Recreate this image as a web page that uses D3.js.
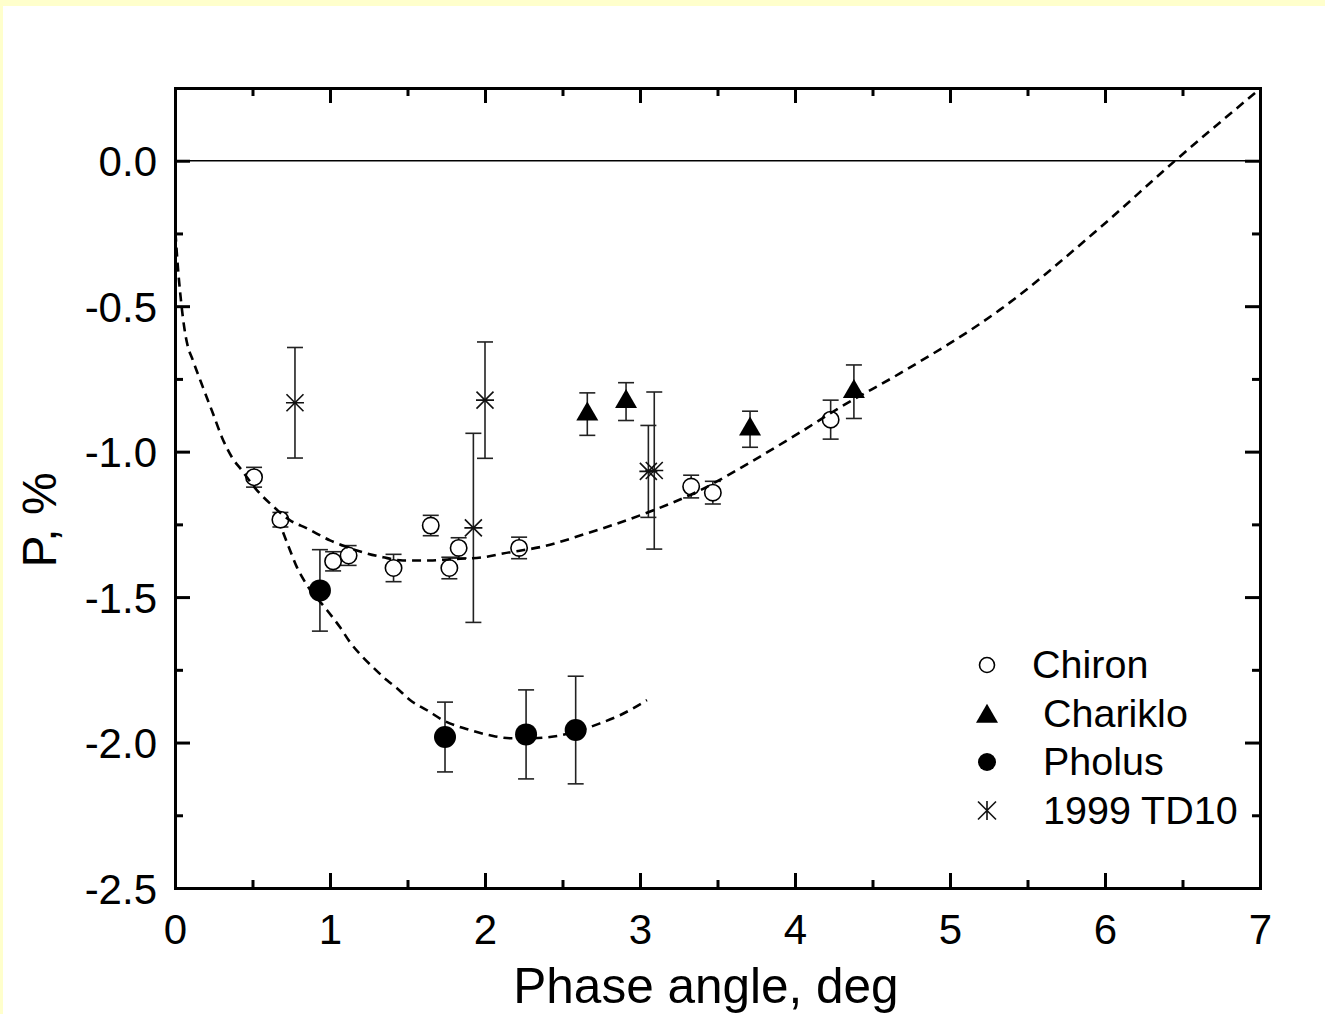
<!DOCTYPE html>
<html>
<head>
<meta charset="utf-8">
<script src="https://cdn.jsdelivr.net/npm/d3@7"></script>
<style>
  body { margin: 0; background: #FFFFCC; }
  svg { display: block; font-family: "Liberation Sans", Arial, sans-serif; }
</style>
</head>
<body>
<svg id="chart"></svg>
<script>
const width = 1325;
const height = 1014;
const plotLeft = 175, plotRight = 1260, plotTop = 88, plotBottom = 888;

// Chiron (open circles)
const chironPhase = [0.51, 0.68, 1.02, 1.12, 1.41, 1.65, 1.77, 1.83, 2.22, 3.33, 3.47, 4.23];
const chironP     = [-1.088, -1.234, -1.377, -1.357, -1.400, -1.254, -1.400, -1.331, -1.331, -1.120, -1.141, -0.890];
const chironErr   = [0.034, 0.025, 0.033, 0.034, 0.047, 0.035, 0.037, 0.035, 0.037, 0.039, 0.039, 0.067];

// Chariklo (filled triangles)
const charikloPhase = [2.66, 2.91, 3.71, 4.38];
const charikloP     = [-0.871, -0.828, -0.923, -0.794];
const charikloErr   = [0.073, 0.065, 0.062, 0.092];

// Pholus (filled circles)
const pholusPhase = [0.935, 1.742, 2.265, 2.585];
const pholusP     = [-1.477, -1.981, -1.972, -1.957];
const pholusErr   = [0.14, 0.12, 0.153, 0.185];

// 1999 TD10 (asterisks)
const td10Phase = [0.774, 1.925, 2.0, 3.054, 3.092];
const td10P     = [-0.832, -1.262, -0.823, -1.068, -1.065];
const td10Err   = [0.19, 0.325, 0.2, 0.158, 0.27];

// fitted curves
const fit1Phase = [0.003, 0.013, 0.026, 0.042, 0.058, 0.077, 0.116, 0.181, 0.245, 0.303, 0.368, 0.432, 0.529, 0.613,
                   0.742, 0.852, 1.000, 1.129, 1.342, 1.471, 1.645, 1.774, 1.987, 2.116, 2.374, 2.658, 3.000, 3.387,
                   3.710, 4.032, 4.290, 4.677, 5.323, 5.968, 6.452, 7.000];
const fit1P     = [-0.247, -0.326, -0.412, -0.498, -0.567, -0.625, -0.687, -0.780, -0.869, -0.951, -1.020, -1.065, -1.133, -1.178,
                   -1.236, -1.264, -1.305, -1.332, -1.363, -1.374, -1.374, -1.370, -1.363, -1.350, -1.326, -1.281, -1.219, -1.133,
                   -1.037, -0.934, -0.848, -0.731, -0.512, -0.230, 0.000, 0.247];

const fit2Phase = [0.697, 0.742, 0.787, 0.852, 0.981, 1.065, 1.129, 1.213, 1.277, 1.368, 1.432, 1.516, 1.626, 1.729,
                   1.903, 2.032, 2.161, 2.310, 2.419, 2.548, 2.742, 2.871, 3.045];
const fit2P     = [-1.277, -1.339, -1.398, -1.459, -1.545, -1.604, -1.655, -1.707, -1.741, -1.786, -1.813, -1.854, -1.889, -1.923,
                   -1.957, -1.975, -1.985, -1.985, -1.981, -1.968, -1.934, -1.906, -1.854];

const xTicks = [0, 1, 2, 3, 4, 5, 6, 7];
const xTickLabels = ['0', '1', '2', '3', '4', '5', '6', '7'];
const xMinor = [0.5, 1.5, 2.5, 3.5, 4.5, 5.5, 6.5];
const yTicks = [0, -0.5, -1, -1.5, -2, -2.5];
const yTickLabels = ['0.0', '-0.5', '-1.0', '-1.5', '-2.0', '-2.5'];
const yMinor = [-0.25, -0.75, -1.25, -1.75, -2.25];

const legendLabels = ['Chiron', ' Chariklo', ' Pholus', ' 1999 TD10'];

const svg = d3.select('#chart')
    .attr('width', width)
    .attr('height', height);

svg.append('rect')
    .attr('x', 3).attr('y', 6)
    .attr('width', width - 3).attr('height', height - 6)
    .attr('fill', '#ffffff');

const x = d3.scaleLinear().domain([0, 7]).range([plotLeft, plotRight]);
const y = d3.scaleLinear().domain([-2.5, 0.25]).range([plotBottom, plotTop]);

function styleAxis(g, fontSize) {
    g.attr('font-family', null).attr('font-size', fontSize);
    g.select('.domain').attr('stroke-width', 3).attr('stroke-linecap', 'square');
    g.selectAll('.tick line').attr('stroke-width', 3);
    g.selectAll('.tick text').attr('fill', '#000');
}

// bottom
svg.append('g').attr('transform', `translate(0, ${plotBottom})`)
    .call(d3.axisBottom(x).tickValues(xTicks).tickSizeInner(-15).tickSizeOuter(0)
        .tickPadding(26).tickFormat((d, i) => xTickLabels[i]))
    .call(g => styleAxis(g, 42));
svg.append('g').attr('transform', `translate(0, ${plotBottom})`)
    .call(d3.axisBottom(x).tickValues(xMinor).tickSizeInner(-8).tickSizeOuter(0).tickFormat(''))
    .call(g => { styleAxis(g, 42); g.select('.domain').remove(); });

// top
svg.append('g').attr('transform', `translate(0, ${plotTop})`)
    .call(d3.axisTop(x).tickValues(xTicks).tickSizeInner(-15).tickSizeOuter(0).tickFormat(''))
    .call(g => styleAxis(g, 42));
svg.append('g').attr('transform', `translate(0, ${plotTop})`)
    .call(d3.axisTop(x).tickValues(xMinor).tickSizeInner(-8).tickSizeOuter(0).tickFormat(''))
    .call(g => { styleAxis(g, 42); g.select('.domain').remove(); });

// left
svg.append('g').attr('transform', `translate(${plotLeft}, 0)`)
    .call(d3.axisLeft(y).tickValues(yTicks).tickSizeInner(-15).tickSizeOuter(0)
        .tickPadding(18).tickFormat((d, i) => yTickLabels[i]))
    .call(g => { styleAxis(g, 42); g.selectAll('.tick text').attr('dy', '0.36em'); });
svg.append('g').attr('transform', `translate(${plotLeft}, 0)`)
    .call(d3.axisLeft(y).tickValues(yMinor).tickSizeInner(-8).tickSizeOuter(0).tickFormat(''))
    .call(g => { styleAxis(g, 42); g.select('.domain').remove(); });

// right
svg.append('g').attr('transform', `translate(${plotRight}, 0)`)
    .call(d3.axisRight(y).tickValues(yTicks).tickSizeInner(-15).tickSizeOuter(0).tickFormat(''))
    .call(g => styleAxis(g, 42));
svg.append('g').attr('transform', `translate(${plotRight}, 0)`)
    .call(d3.axisRight(y).tickValues(yMinor).tickSizeInner(-8).tickSizeOuter(0).tickFormat(''))
    .call(g => { styleAxis(g, 42); g.select('.domain').remove(); });

// zero line
svg.append('line')
    .attr('x1', x(0)).attr('x2', x(7))
    .attr('y1', y(0)).attr('y2', y(0))
    .attr('stroke', '#000').attr('stroke-width', 1.5);

// axis titles
svg.append('text')
    .attr('x', 706)
    .attr('y', 1003)
    .attr('text-anchor', 'middle')
    .attr('font-size', 49.5)
    .text('Phase angle, deg');

svg.append('text')
    .attr('transform', 'translate(56, 520) rotate(-90)')
    .attr('text-anchor', 'middle')
    .attr('font-size', 48)
    .text('P, %');

function zip(px, py, pe) {
    return px.map((d, i) => ({x: d, p: py[i], e: pe[i]}));
}

const chiron = zip(chironPhase, chironP, chironErr);
const chariklo = zip(charikloPhase, charikloP, charikloErr);
const pholus = zip(pholusPhase, pholusP, pholusErr);
const td10 = zip(td10Phase, td10P, td10Err);

// error bars
const errGroup = svg.append('g')
    .attr('stroke', '#222')
    .attr('stroke-width', 1.6)
    .attr('fill', 'none');

[chiron, chariklo, pholus, td10].forEach(series => {
    const g = errGroup.append('g').selectAll('g').data(series).enter().append('g');
    g.append('line')
        .attr('x1', d => x(d.x)).attr('x2', d => x(d.x))
        .attr('y1', d => y(d.p + d.e)).attr('y2', d => y(d.p - d.e));
    g.append('line')
        .attr('x1', d => x(d.x) - 8).attr('x2', d => x(d.x) + 8)
        .attr('y1', d => y(d.p + d.e)).attr('y2', d => y(d.p + d.e));
    g.append('line')
        .attr('x1', d => x(d.x) - 8).attr('x2', d => x(d.x) + 8)
        .attr('y1', d => y(d.p - d.e)).attr('y2', d => y(d.p - d.e));
});

const triangle = d3.symbol().type(d3.symbolTriangle).size(210);
const starPlot = 'M-9,0H9M-8.5,-8.5L8.5,8.5M-8.5,8.5L8.5,-8.5';
const starLegend = 'M0,-9.5V9.5M-9,-9L9,9M-9,9L9,-9';

// markers
svg.append('g').selectAll('circle').data(chiron).enter().append('circle')
    .attr('cx', d => x(d.x)).attr('cy', d => y(d.p)).attr('r', 8.2)
    .attr('fill', '#fff').attr('stroke', '#000').attr('stroke-width', 1.6);

svg.append('g').selectAll('path').data(chariklo).enter().append('path')
    .attr('d', triangle)
    .attr('transform', d => `translate(${x(d.x)}, ${y(d.p)})`)
    .attr('fill', '#000');

svg.append('g').selectAll('circle').data(pholus).enter().append('circle')
    .attr('cx', d => x(d.x)).attr('cy', d => y(d.p)).attr('r', 11)
    .attr('fill', '#000');

svg.append('g').selectAll('path').data(td10).enter().append('path')
    .attr('d', starPlot)
    .attr('transform', d => `translate(${x(d.x)}, ${y(d.p)})`)
    .attr('fill', 'none').attr('stroke', '#111').attr('stroke-width', 1.6);

// fitted curves
const line = d3.line()
    .x(d => x(d[0]))
    .y(d => y(d[1]))
    .curve(d3.curveMonotoneX);

[[fit1Phase, fit1P], [fit2Phase, fit2P]].forEach(([px, py]) => {
    svg.append('path')
        .datum(px.map((d, i) => [d, py[i]]))
        .attr('d', line)
        .attr('fill', 'none')
        .attr('stroke', '#000')
        .attr('stroke-width', 2.6)
        .attr('stroke-dasharray', '9,6');
});

// legend
const legend = svg.append('g').attr('transform', 'translate(987, 665)');
const legendStep = 48.5;

legendLabels.forEach((label, i) => {
    const row = legend.append('g').attr('transform', `translate(0, ${i * legendStep})`);
    if (i === 0) {
        row.append('circle').attr('r', 7.5)
            .attr('fill', '#fff').attr('stroke', '#000').attr('stroke-width', 1.6);
    } else if (i === 1) {
        row.append('path').attr('d', triangle).attr('transform', 'translate(0, 3)').attr('fill', '#000');
    } else if (i === 2) {
        row.append('circle').attr('r', 9).attr('fill', '#000');
    } else {
        row.append('path').attr('d', starLegend)
            .attr('fill', 'none').attr('stroke', '#111').attr('stroke-width', 1.6);
    }
    row.append('text')
        .attr('x', 45)
        .attr('y', 13)
        .attr('font-size', 39.5)
        .style('white-space', 'pre')
        .text(label);
});
</script>
</body>
</html>
